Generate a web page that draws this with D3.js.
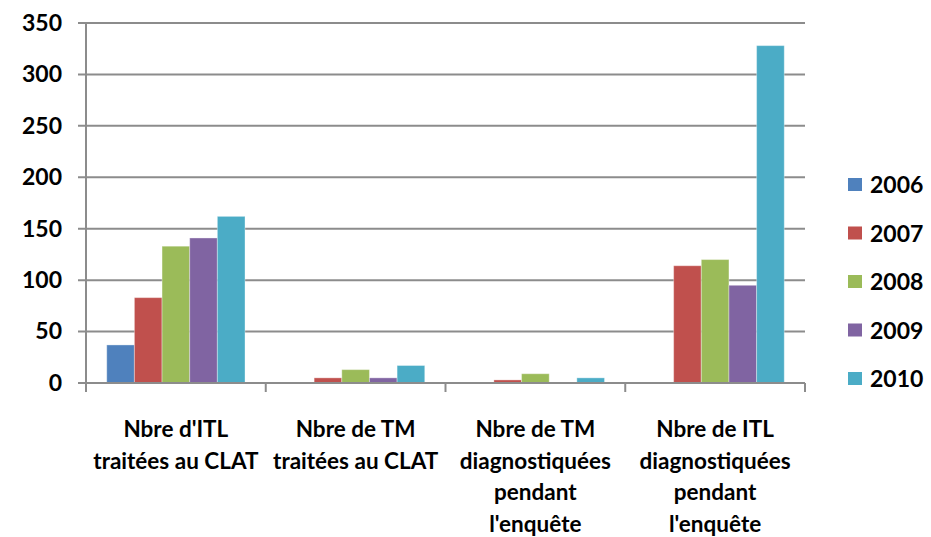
<!DOCTYPE html>
<html>
<head>
<meta charset="utf-8">
<title>ITL / TM par année</title>
<style>
body { margin: 0; background: #fff; }
.tick text, .label, .legend text {
  font-family: Lato, "Open Sans", sans-serif;
  font-weight: bold;
  fill: #000;
}
</style>
</head>
<body>
<svg width="931" height="537"></svg>
<script src="https://cdn.jsdelivr.net/npm/d3@7"></script>
<script>

// data
var categories = [
  ["Nbre d'ITL", "traitées au CLAT"],
  ["Nbre de TM", "traitées au CLAT"],
  ["Nbre de TM", "diagnostiquées", "pendant", "l'enquête"],
  ["Nbre de ITL", "diagnostiquées", "pendant", "l'enquête"]
];
var years = ["2006", "2007", "2008", "2009", "2010"];
var colors = ["#4F81BD", "#C0504D", "#9BBB59", "#8064A2", "#4BACC6"];
var v2006 = [37, 0, 0, 0];
var v2007 = [83, 5, 3, 114];
var v2008 = [133, 13, 9, 120];
var v2009 = [141, 5, 0, 95];
var v2010 = [162, 17, 5, 328];
var yTicks = [0, 50, 100, 150, 200, 250, 300, 350];

var series = [v2006, v2007, v2008, v2009, v2010];

var svg = d3.select("svg");
var left = 86, right = 805, plotTop = 23, bottom = 383;

var x = d3.scaleBand()
    .domain(d3.range(categories.length))
    .range([left, right]);

var xs = d3.scaleBand()
    .domain(d3.range(years.length))
    .range([0, x.bandwidth()])
    .paddingInner(0)
    .paddingOuter(0.75);

var y = d3.scaleLinear()
    .domain([0, 350])
    .range([bottom, plotTop]);

// grid lines
svg.append("g")
  .selectAll("line")
  .data(yTicks)
  .enter().append("line")
    .attr("x1", left - 8)
    .attr("x2", right)
    .attr("y1", function(d) { return y(d); })
    .attr("y2", function(d) { return y(d); })
    .attr("stroke", "#8c8c8c")
    .attr("stroke-width", 2);

// y labels
var yAxis = svg.append("g")
    .attr("transform", "translate(" + (left - 8) + ",0)")
    .call(d3.axisLeft(y).tickValues(yTicks).tickSize(0).tickPadding(16));
yAxis.select(".domain").remove();
yAxis.selectAll("text").style("font-size", "23px");

// bars
var groups = svg.append("g")
  .selectAll("g")
  .data(series)
  .enter().append("g")
    .attr("fill", function(d, i) { return colors[i]; });

groups.each(function(vals, si) {
  d3.select(this).selectAll("rect")
    .data(vals)
    .enter().append("rect")
      .attr("x", function(d, ci) { return x(ci) + xs(si); })
      .attr("width", xs.bandwidth())
      .attr("y", function(d) { return y(d); })
      .attr("height", function(d) { return bottom - y(d); })
      .attr("stroke", "rgba(255,255,255,0.35)")
      .attr("stroke-width", 1);
});

// axes
svg.append("line")
    .attr("x1", left).attr("x2", left)
    .attr("y1", plotTop).attr("y2", bottom + 9)
    .attr("stroke", "#8c8c8c").attr("stroke-width", 2);

svg.append("line")
    .attr("x1", left - 8).attr("x2", right)
    .attr("y1", bottom).attr("y2", bottom)
    .attr("stroke", "#8c8c8c").attr("stroke-width", 2);

svg.append("g")
  .selectAll("line")
  .data(d3.range(categories.length + 1))
  .enter().append("line")
    .attr("x1", function(i) { return left + i * x.step(); })
    .attr("x2", function(i) { return left + i * x.step(); })
    .attr("y1", bottom)
    .attr("y2", bottom + 9)
    .attr("stroke", "#8c8c8c")
    .attr("stroke-width", 2);

// category labels
var lab = svg.append("g")
  .selectAll("text")
  .data(categories)
  .enter().append("text")
    .attr("class", "label")
    .attr("text-anchor", "middle")
    .style("font-size", "22.5px")
    .attr("x", function(d, i) { return x(i) + x.bandwidth() / 2; })
    .attr("y", 437);

lab.selectAll("tspan")
  .data(function(d) { return d; })
  .enter().append("tspan")
    .attr("x", function() { return d3.select(this.parentNode).attr("x"); })
    .attr("dy", function(d, i) { return i === 0 ? 0 : 31.5; })
    .text(function(d) { return d; });

// legend
var legend = svg.append("g")
    .attr("class", "legend")
    .selectAll("g")
    .data(years)
  .enter().append("g")
    .attr("transform", function(d, i) { return "translate(848," + (185 + i * 48.5) + ")"; });

legend.append("rect")
    .attr("x", 0).attr("y", -7)
    .attr("width", 14).attr("height", 13)
    .attr("fill", function(d, i) { return colors[i]; });

legend.append("text")
    .attr("x", 22)
    .attr("dy", "0.36em")
    .style("font-size", "23px")
    .text(function(d) { return d; });

</script>
</body>
</html>
